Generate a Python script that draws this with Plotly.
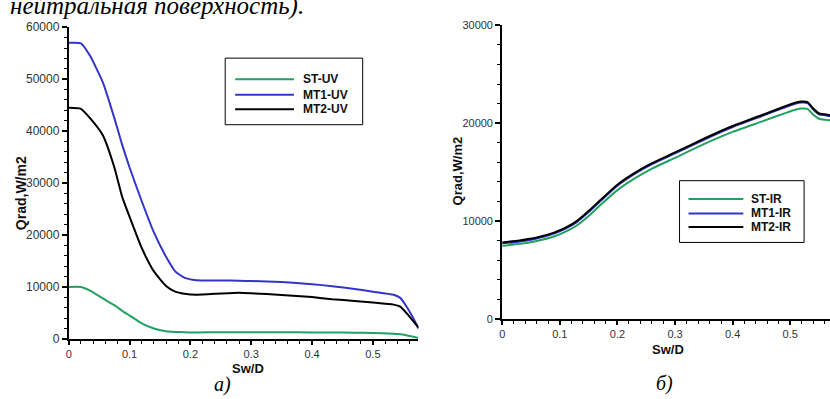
import plotly.graph_objects as go

W, H = 830, 399

# ---------------- data: chart a) (UV) ----------------
x_uv = [0, 0.02, 0.035, 0.056, 0.075, 0.088, 0.1, 0.12, 0.14, 0.16, 0.175, 0.19, 0.21,
        0.25, 0.28, 0.3, 0.35, 0.4, 0.433, 0.47, 0.5, 0.534, 0.545, 0.555, 0.565, 0.575]
st_uv = [10000, 10000, 9300, 7800, 6500, 5400, 4500, 3000, 2000, 1500, 1350, 1280, 1250,
         1280, 1300, 1300, 1280, 1250, 1250, 1200, 1150, 1000, 900, 700, 450, 200]
mt1_uv = [57000, 56900, 54500, 49400, 42500, 37300, 33000, 26500, 20500, 15800, 13000, 11800, 11300,
          11250, 11200, 11150, 10950, 10550, 10150, 9600, 9100, 8500, 7900, 6300, 4300, 2000]
mt2_uv = [44500, 44300, 42500, 39200, 33000, 27300, 23500, 17500, 13000, 10200, 9100, 8700, 8500,
          8750, 8900, 8800, 8450, 8050, 7650, 7300, 7000, 6600, 6200, 5000, 3600, 2200]

# ---------------- data: chart б) (IR) ----------------
x_ir = [0, 0.03, 0.06, 0.09, 0.11, 0.13, 0.15, 0.17, 0.2, 0.23, 0.26, 0.3, 0.35, 0.4, 0.45,
        0.49, 0.51, 0.52, 0.53, 0.54, 0.55, 0.56, 0.57]
mt2_ir = [7800, 8000, 8300, 8800, 9300, 10000, 11000, 12100, 13700, 14900, 15900, 17000, 18400,
          19700, 20800, 21700, 22100, 22200, 22150, 21500, 21000, 20900, 20800]
mt1_ir = [7700, 7900, 8200, 8700, 9200, 9900, 10900, 12000, 13600, 14800, 15800, 16900, 18300,
          19600, 20700, 21600, 22000, 22100, 22050, 21400, 20900, 20800, 20700]
st_ir = [7450, 7650, 7950, 8400, 8900, 9550, 10500, 11600, 13150, 14350, 15350, 16450, 17850,
         19100, 20150, 21000, 21400, 21500, 21450, 20850, 20450, 20350, 20300]

names_uv = ["ST-UV", "MT1-UV", "MT2-UV"]
names_ir = ["ST-IR", "MT1-IR", "MT2-IR"]
colors = ["#22a062", "#3434c8", "#000000"]

fig = go.Figure()
for name, ys, c in zip(names_uv, [st_uv, mt1_uv, mt2_uv], colors):
    fig.add_trace(go.Scatter(x=x_uv, y=ys, name=name, mode="lines",
                             line=dict(color=c, width=2, shape="spline", smoothing=0.5),
                             xaxis="x", yaxis="y", showlegend=False))
for name, ys, c in zip(names_ir, [st_ir, mt1_ir, mt2_ir], colors):
    fig.add_trace(go.Scatter(x=x_ir, y=ys, name=name, mode="lines",
                             line=dict(color=c, width=2, shape="spline", smoothing=0.5),
                             xaxis="x2", yaxis="y2", showlegend=False))

def px(x):
    return x / W

def py(y):
    return 1 - y / H

yfont = dict(family="Liberation Sans, Arial", size=12, color="#333333")
xfont = dict(family="Liberation Sans, Arial", size=11, color="#333333")
common = dict(showline=True, linecolor="black", linewidth=2, ticks="outside",
              tickwidth=1.5, tickcolor="black", showgrid=False, zeroline=False)
xminor = dict(ticks="outside", ticklen=3, dtick=0.02, tickcolor="black", tickwidth=1)
yminor = dict(ticks="outside", ticklen=3, dtick=2000, tickcolor="black", tickwidth=1)

fig.update_layout(
    width=W, height=H, autosize=False,
    margin=dict(l=0, r=0, t=0, b=0),
    paper_bgcolor="white", plot_bgcolor="white",
    xaxis=dict(domain=[px(66), px(417)], range=[0, 0.575], dtick=0.1, tick0=0, anchor="y",
               ticklen=4, minor=xminor, tickfont=xfont, **common),
    yaxis=dict(domain=[py(344), py(21)], range=[0, 60000], dtick=10000, tickformat="d", anchor="x",
               ticklen=5, minor=yminor, tickfont=yfont, **common),
    xaxis2=dict(domain=[px(501), 1.0], range=[0, 0.569], dtick=0.1, tick0=0, anchor="y2",
                ticklen=4, minor=xminor, tickfont=xfont, **common),
    yaxis2=dict(domain=[py(323), py(19)], range=[0, 30000], dtick=10000, tickformat="d", anchor="x2",
                ticklen=5, minor=yminor, tickfont=dict(yfont, size=11), **common),
)

shapes = []
annotations = []
bold = dict(family="Liberation Sans, Arial", size=12, color="#111111")

def legend(box, lx0, lx1, tx, ys, names):
    x0, y0, x1, y1 = box
    shapes.append(dict(type="rect", xref="paper", yref="paper", x0=px(x0), x1=px(x1),
                       y0=py(y1), y1=py(y0), line=dict(color="black", width=1),
                       fillcolor="white", layer="above"))
    for yy, n, c in zip(ys, names, colors):
        shapes.append(dict(type="line", xref="paper", yref="paper", x0=px(lx0), x1=px(lx1),
                           y0=py(yy), y1=py(yy), line=dict(color=c, width=2), layer="above"))
        annotations.append(dict(x=px(tx), y=py(yy), xref="paper", yref="paper", text="<b>%s</b>" % n,
                                showarrow=False, xanchor="left", yanchor="middle", font=bold))

legend((223, 53, 361, 122), 233, 292, 299, [75, 91, 106], names_uv)
legend((679, 180, 804, 244), 688, 743, 749, [199, 214, 228], names_ir)

def ann(x, y, text, size, family="Liberation Sans, Arial", angle=0, xanchor="center", yanchor="middle",
        color="#111111"):
    annotations.append(dict(x=px(x), y=py(y), xref="paper", yref="paper", text=text, showarrow=False,
                            textangle=angle, xanchor=xanchor, yanchor=yanchor, borderpad=0,
                            font=dict(family=family, size=size, color=color)))

ann(18, 193, "<b>Qrad,W/m2</b>", 14, angle=-90)
ann(456, 170, "<b>Qrad,W/m2</b>", 13, angle=-90)
ann(246, 375, "<b>Sw/D</b>", 13)
ann(667, 355, "<b>Sw/D</b>", 13)
ann(220, 391, "<i>а)</i>", 20, family="Liberation Serif, Times New Roman", color="black")
ann(664, 390, "<i>б)</i>", 20, family="Liberation Serif, Times New Roman", color="black")
ann(6, 15, "<i>нейтральная поверхность).</i>", 25, family="Liberation Serif, Times New Roman",
    xanchor="left", yanchor="bottom", color="black")

fig.update_layout(shapes=shapes, annotations=annotations)
fig.write_html("out.html")
